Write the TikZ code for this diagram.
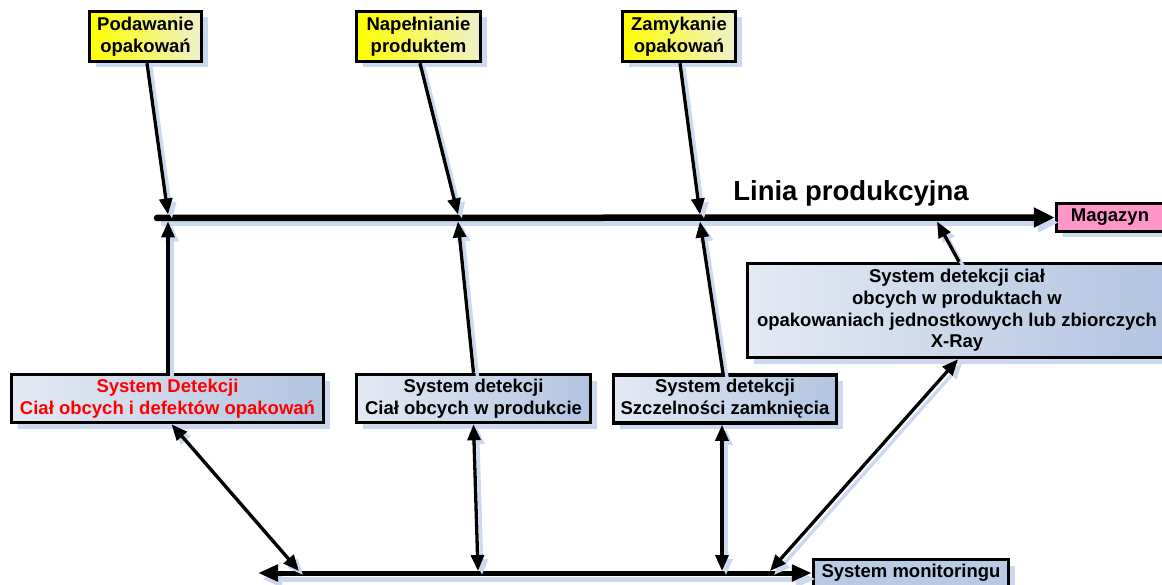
\documentclass[tikz,border=0pt]{standalone}
\usepackage{fontspec}
\setmainfont{Liberation Sans}
\usetikzlibrary{shadows,arrows.meta}
\definecolor{shadowc}{RGB}{204,216,238}
\definecolor{ylight}{RGB}{238,240,204}
\definecolor{bleft}{RGB}{228,234,244}
\definecolor{bright}{RGB}{178,196,224}
\definecolor{pinkc}{RGB}{255,150,200}
\definecolor{monc}{RGB}{184,202,230}
\tikzset{
  boxbase/.style={draw=black, line width=3.5pt, align=center, inner sep=0pt,
    font=\bfseries\fontsize{18.5}{22}\selectfont,
    drop shadow={shadow xshift=6pt, shadow yshift=-6pt, fill=shadowc, opacity=1}},
  ybox/.style={boxbase, left color=yellow, right color=ylight},
  bbox/.style={boxbase, left color=bleft, right color=bright},
  conn/.style={line width=3.3pt, -{Triangle[length=16pt,width=13pt]},
    preaction={draw=shadowc, line width=3.3pt, transform canvas={shift={(4pt,-4pt)}}}},
  dconn/.style={line width=3.3pt, {Triangle[length=16pt,width=13pt]}-{Triangle[length=16pt,width=13pt]},
    preaction={draw=shadowc, line width=3.3pt, transform canvas={shift={(4pt,-4pt)}}}},
  mainline/.style={line width=6.5pt, line cap=round, -{Triangle[length=21pt,width=19pt]},
    preaction={draw=shadowc, line width=6.5pt, transform canvas={shift={(4pt,-5pt)}}}},
  botline/.style={line width=5pt, {Triangle[length=20pt,width=16pt]}-{Triangle[length=20pt,width=16pt]},
    preaction={draw=shadowc, line width=5pt, transform canvas={shift={(4pt,-6pt)}}}},
}
\begin{document}
\begin{tikzpicture}[x=1pt,y=-1pt]
\useasboundingbox (0,0) rectangle (1162,585);
\clip (0,0) rectangle (1162,585);

% top yellow boxes
\node[ybox, minimum width=112pt, minimum height=50pt] (p1) at (145.5,36.5) {Podawanie\\opakowań};
\node[ybox, minimum width=124pt, minimum height=50pt] (p2) at (418.5,36.5) {Napełnianie\\produktem};
\node[ybox, minimum width=113pt, minimum height=50pt] (p3) at (679,36.5) {Zamykanie\\opakowań};

% lower detection boxes
\node[bbox, minimum width=312pt, minimum height=48pt, text=red] (d1) at (167.5,398.5) {System Detekcji\\Ciał obcych i defektów opakowań};
\node[bbox, minimum width=234pt, minimum height=48pt] (d2) at (473.5,398.5) {System detekcji\\Ciał obcych w produkcie};
\node[bbox, minimum width=223pt, minimum height=48pt] (d3) at (725,399) {System detekcji\\Szczelności zamknięcia};
\node[bbox, minimum width=419pt, minimum height=94pt, font=\bfseries\fontsize{18.5}{21.7}\selectfont] (xr) at (957,310.5)
  {System detekcji ciał\\obcych w produktach w\\opakowaniach jednostkowych lub zbiorczych\\X-Ray};

% end boxes
\node[boxbase, fill=pinkc, minimum width=107pt, minimum height=28pt] (mag) at (1110,217.5) {Magazyn};
\node[boxbase, fill=monc, minimum width=195pt, minimum height=27pt] (mon) at (911,573) {System monitoringu};

% title
\node[font=\bfseries\fontsize{27.5}{30}\selectfont, inner sep=0pt] (title) at (851,193) {Linia produkcyjna};

% coordinates on main line
\coordinate (L0) at (157,218);
\coordinate (a1) at (168,214.5);
\coordinate (a2) at (458,214.5);
\coordinate (a3) at (700,214.5);
\coordinate (u1) at (168,221.5);
\coordinate (u2) at (458,221.5);
\coordinate (u3) at (700,221.5);
\coordinate (u4) at (937,221.5);
% coordinates on bottom line
\coordinate (B0) at (258,573);
\coordinate (c1) at (299,571);
\coordinate (c2) at (478,571);
\coordinate (c3) at (722,571);
\coordinate (c4) at (770,571);

% main lines
\draw[mainline] (L0) -- (mag.west);
\draw[botline] (B0) -- (mon.west);

% top arrows down to line
\draw[conn] ([xshift=1.5pt]p1.south) -- (a1);
\draw[conn] ([xshift=1.5pt]p2.south) -- (a2);
\draw[conn] ([xshift=1pt]p3.south) -- (a3);

% arrows up from detection boxes
\draw[conn] ([xshift=0.5pt]d1.north) -- (u1);
\draw[conn] (d2.north) -- (u2);
\draw[conn] ([xshift=-2pt]d3.north) -- (u3);
\draw[conn] ([xshift=2pt]xr.north) -- (u4);

% double arrows to monitoring line
\draw[dconn] ([xshift=4pt]d1.south) -- (c1);
\draw[dconn] (d2.south) -- (c2);
\draw[dconn] ([xshift=-3pt]d3.south) -- (c3);
\draw[dconn] ([xshift=1pt]xr.south) -- (c4);
\end{tikzpicture}
\end{document}
